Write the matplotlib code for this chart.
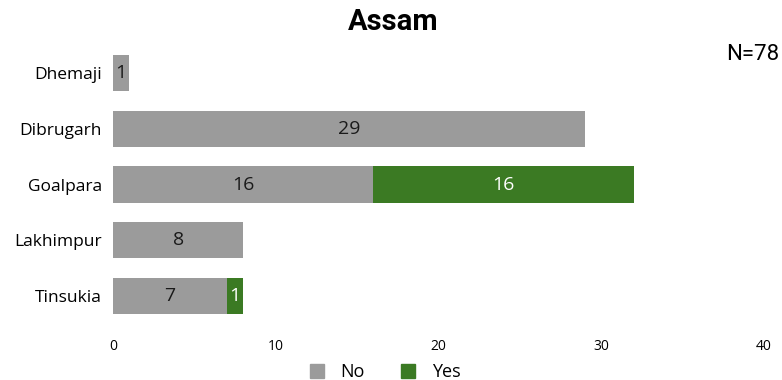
import matplotlib.pyplot as plt
from matplotlib.patches import Patch

# Counts per district
districts = ['Dhemaji', 'Dibrugarh', 'Goalpara', 'Lakhimpur', 'Tinsukia']
no_counts = [1, 29, 16, 8, 7]
yes_counts = [0, 0, 16, 0, 1]
x_ticks = [0, 10, 20, 30, 40]

grey = '#9b9b9b'
green = '#3b7a23'

fig = plt.figure(figsize=(7.82, 3.8), dpi=100)
ax = fig.add_axes([113 / 782, 56 / 380, 651 / 782, 279 / 380])

ypos = range(len(districts))
ax.barh(ypos, no_counts, height=0.65, color=grey)
ax.barh(ypos, yes_counts, left=no_counts, height=0.65, color=green)

# Value labels inside the segments
for i, (n, y) in enumerate(zip(no_counts, yes_counts)):
    if n > 0:
        ax.text(n / 2, i, str(n), ha='center', va='center', fontsize=14,
                family='Open Sans', color='#1a1a1a')
    if y > 0:
        ax.text(n + y / 2, i, str(y), ha='center', va='center', fontsize=14,
                family='Open Sans', color='white')

ax.set_xlim(0, 40)
ax.set_ylim(4.5, -0.5)
ax.set_yticks(list(ypos))
ax.set_yticklabels(districts, family='Open Sans', fontsize=12.5)
ax.set_xticks(x_ticks)
ax.set_xticklabels([str(t) for t in x_ticks], family='Open Sans', fontsize=10)
ax.tick_params(axis='both', length=0)
ax.tick_params(axis='y', pad=8)
ax.tick_params(axis='x', pad=11)
for s in ax.spines.values():
    s.set_visible(False)

fig.text(393 / 782, 1 - 22 / 380, 'Assam', ha='center', va='center',
         fontsize=21, fontweight='bold', family='Roboto')
fig.text(779 / 782, 1 - 55 / 380, 'N=78', ha='right', va='center',
         fontsize=16, family='Roboto')

handles = [Patch(color=grey, label='No'), Patch(color=green, label='Yes')]
fig.legend(handles=handles, loc='center', bbox_to_anchor=(385 / 782, 1 - 372 / 380),
           ncol=2, frameon=False, prop={'family': 'Open Sans', 'size': 13},
           handlelength=0.8, handleheight=0.8, columnspacing=2.0, handletextpad=0.9)

fig.savefig('out.png', dpi=100)
